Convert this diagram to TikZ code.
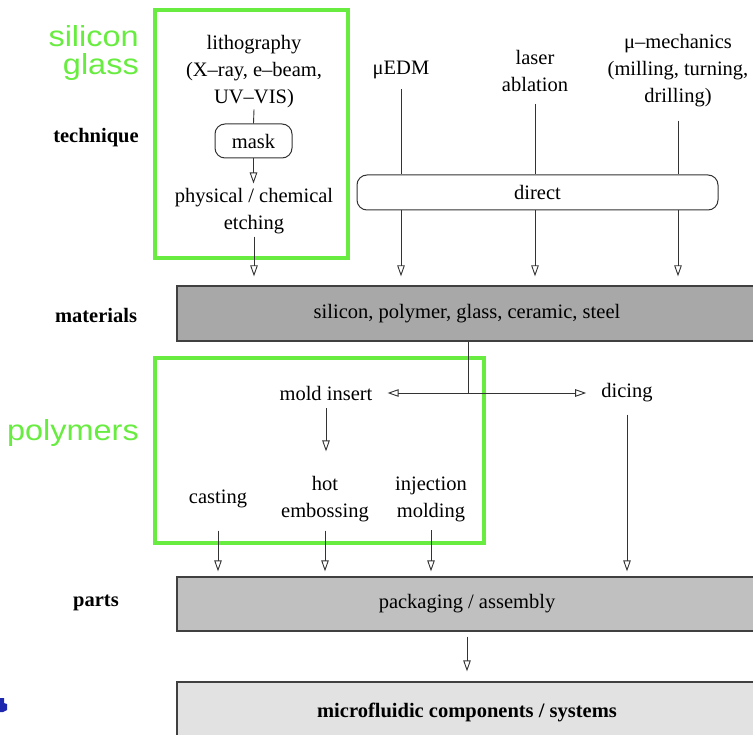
\documentclass[tikz,border=0pt]{standalone}
\usepackage{fontspec}
\setmainfont{Liberation Serif}
\newfontfamily\groupfont[FakeStretch=1.12]{Liberation Sans}
\usetikzlibrary{arrows.meta}

\definecolor{hlgreen}{RGB}{104,236,64}
\definecolor{matgray}{RGB}{168,168,168}
\definecolor{partgray}{RGB}{192,192,192}
\definecolor{sysgray}{RGB}{226,226,226}
\definecolor{logoblue}{RGB}{30,40,175}

\begin{document}
\begin{tikzpicture}[x=1pt,y=-1pt,
  body/.style={font=\fontsize{20.5}{27}\selectfont},
  boldbody/.style={font=\fontsize{20.5}{27}\selectfont\bfseries},
  txt/.style={body, align=center, inner sep=0pt},
  side/.style={boldbody, inner sep=0pt},
  grp/.style={font=\fontsize{29}{28}\selectfont\groupfont, text=hlgreen, align=right, inner sep=0pt, anchor=east},
  frame/.style={draw=hlgreen, line width=3.5pt},
  bar/.style={draw=black!75, line width=1.3pt, inner sep=0pt, minimum width=580pt},
  pill/.style={draw=black!80, line width=1pt, rounded corners=10pt, fill=white, inner sep=0pt, body},
  link/.style={line width=0.9pt, draw=black!80},
  flow/.style={link, -{Triangle[open,length=11pt,width=7.5pt]}},
]
\useasboundingbox (0,0) rectangle (753,735);

% group frames
\draw[frame] (155,10) rectangle (348,258);
\draw[frame] (155,358) rectangle (484,543);

% group labels
\node[grp] (gsi) at (139,53) {silicon\\glass};
\node[grp] (gpoly) at (139,433) {polymers};

% row labels
\node[side] (ltech) at (96,138) {technique};
\node[side] (lmat) at (96,315) {materials};
\node[side] (lparts) at (96,603) {parts};

% horizontal bars
\node[bar, fill=matgray, minimum height=55pt, body] (mat) at (467,313.5) {silicon, polymer, glass, ceramic, steel};
\node[bar, fill=partgray, minimum height=54pt, body] (parts) at (467,604) {packaging / assembly};
\node[bar, fill=sysgray, minimum height=60pt, boldbody] (sys) at (467,712) {microfluidic components / systems};

% lithography route
\node[txt] (litho) at (254,72) {lithography\\(X--ray, e--beam,\\UV--VIS)};
\node[pill, minimum width=77pt, minimum height=34pt] (mask) at (253.5,141) {mask};
\node[txt] (etch) at (254,211.5) {physical / chemical\\etching};

% direct techniques
\node[txt] (edm) at (401,70) {μEDM};
\node[txt] (laser) at (535,71) {laser\\ablation};
\node[txt] (mech) at (678,71) {μ--mechanics\\(milling, turning,\\drilling)};
\node[pill, minimum width=361pt, minimum height=35pt] (direct) at (537.5,192.5) {direct};

% polymer replication
\node[txt] (mold) at (326,393) {mold insert};
\node[txt] (dice) at (627,393) {dicing};
\node[txt] (cast) at (218,499) {casting};
\node[txt] (emb) at (325,499.5) {hot\\embossing};
\node[txt] (inj) at (431,499.5) {injection\\molding};

% connectors: lithography
\draw[link] (litho.south) ++(0,1) -- (mask.north);
\draw[flow] (mask.south) -- ++(0,25);
\draw[flow, shorten <=2pt, shorten >=9pt] (etch.south) -- (etch.south |- mat.north);

% connectors: direct
\draw[link, shorten <=10pt] (edm.south) -- (edm.south |- direct.north);
\draw[link, shorten <=12pt] (laser.south) -- (laser.south |- direct.north);
\draw[link, shorten <=13pt] (mech.south) -- (mech.south |- direct.north);
\draw[flow, shorten >=9pt] (edm.south |- direct.south) -- (edm.south |- mat.north);
\draw[flow, shorten >=9pt] (laser.south |- direct.south) -- (laser.south |- mat.north);
\draw[flow, shorten >=9pt] (mech.south |- direct.south) -- (mech.south |- mat.north);

% connectors: materials split
\coordinate (hub) at (468,393);
\draw[link] (mat.south -| hub) -- (hub);
\draw[flow, shorten >=15pt] (hub) -- (mold.east);
\draw[flow, shorten >=15pt] (hub) -- (dice.west);

% connectors: replication
\draw[flow, shorten <=8pt] (mold.south) -- ++(0,51);
\draw[flow, shorten <=8pt, shorten >=5pt] (cast.south |- emb.south) -- (cast.south |- parts.north);
\draw[flow, shorten <=8pt, shorten >=5pt] (emb.south) -- (emb.south |- parts.north);
\draw[flow, shorten <=8pt, shorten >=5pt] (inj.south) -- (inj.south |- parts.north);
\draw[flow, shorten <=12pt, shorten >=5pt] (dice.south) -- (dice.south |- parts.north);

% connector: parts to systems
\draw[flow, shorten <=5pt, shorten >=10pt] (parts.south) -- (sys.north);

% logo fragment at the left edge
\fill[logoblue] (0,698) -- (4,698) -- (4,703) -- (7,704) -- (7,710) -- (3,712) -- (0,712) -- cycle;
\end{tikzpicture}
\end{document}
